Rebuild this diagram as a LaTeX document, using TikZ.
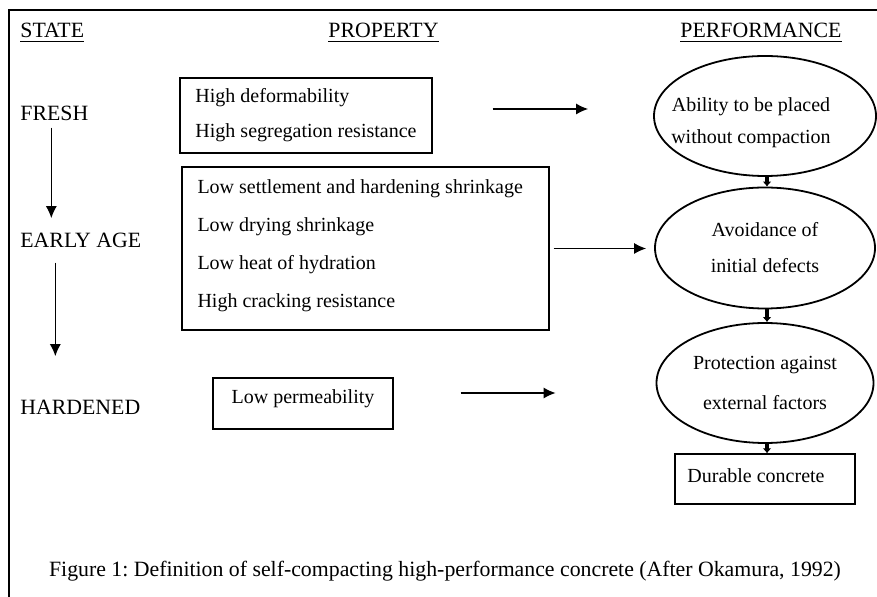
\documentclass[tikz,border=0pt]{standalone}
\usepackage{fontspec}
\setmainfont{Liberation Serif}
\usepackage{tikz}
\usetikzlibrary{shapes,arrows.meta,positioning}
% push the text of a box up / down by #1 (extra depth or height is twice the shift)
\newcommand{\liftby}[2]{\raisebox{0pt}[\height][\dimexpr\depth+#1*2\relax]{#2}}
\newcommand{\dropby}[2]{\raisebox{0pt}[\dimexpr\height+#1*2\relax][\depth]{#2}}
\frenchspacing

\begin{document}
\begin{tikzpicture}[x=0.5pt,y=-0.5pt,
    txt/.style={inner sep=0pt,anchor=base west,font=\fontsize{10.9}{13}\selectfont},
    propbox/.style={draw,line width=0.7pt,inner sep=0pt,align=left},
    perf/.style={ellipse,draw,line width=0.9pt,inner sep=0pt,align=center},
    flow/.style={line width=0.6pt,-{Latex[length=6pt,width=5.5pt]}},
    link/.style={line width=1.6pt,-{Latex[length=2.5pt,width=4.5pt]}}]
    \useasboundingbox (0,0) rectangle (877,597);
    % frame (only top and left side visible)
    \draw[line width=0.6pt] (9,597) -- (9,10) -- (877,10);

    % column heads
    \node[txt] (hstate) at (20,38) {\underline{STATE}};
    \node[txt] (hprop) at (328,38) {\underline{PROPERTY}};
    \node[txt] (hperf) at (680,38) {\underline{PERFORMANCE}};

    % states
    \node[txt] (fresh) at (20,121) {FRESH};
    \node[txt] (early) at (20,248) {EARLY AGE};
    \node[txt] (hard) at (20,415) {HARDENED};
    \draw[flow, shorten <=3pt, shorten >=7.5pt]
        ([xshift=-1.5pt]fresh.south) -- ([xshift=-1.5pt]fresh.south |- early.north);
    \draw[flow, shorten <=7pt, shorten >=22pt]
        ([xshift=0.5pt]fresh.south |- early.south) -- ([xshift=0.5pt]fresh.south |- hard.north);

    % properties
    \node[propbox, minimum width=126pt, minimum height=37.5pt,
        font=\fontsize{10}{17.5}\selectfont] (p1) at (306,115.5)
        {High deformability\\High segregation resistance};
    \node[propbox, minimum width=183.5pt, minimum height=81.5pt,
        font=\fontsize{10}{19}\selectfont] (p2) at (365.5,248.5)
        {\liftby{1.25pt}{\parbox{168pt}{Low settlement and hardening shrinkage\\Low drying shrinkage\\
         Low heat of hydration\\High cracking resistance}}};
    \node[propbox, minimum width=90pt, minimum height=25.5pt,
        font=\fontsize{10}{12}\selectfont] (p3) at (303,403.5)
        {\liftby{2.25pt}{Low permeability}};

    % performance
    \node[perf, minimum width=111pt, minimum height=60pt,
        font=\fontsize{10}{16}\selectfont] (e1) at (765,116)
        {\hspace*{-14pt}\dropby{2.5pt}{\begin{tabular}{@{}c@{}}Ability to be placed\\without compaction\end{tabular}}};
    \node[perf, minimum width=110pt, minimum height=60.5pt,
        font=\fontsize{10}{18}\selectfont] (e2) at (765,248)
        {Avoidance of\\initial defects};
    \node[perf, minimum width=108.5pt, minimum height=60pt,
        font=\fontsize{10}{20}\selectfont] (e3) at (765,383)
        {Protection against\\external factors};
    \node[propbox, minimum width=90pt, minimum height=25pt,
        font=\fontsize{10}{12}\selectfont] (dur) at (765,479)
        {\liftby{1.5pt}{Durable concrete}\hspace*{9pt}};

    % property -> performance
    \draw[flow, shorten <=30pt, shorten >=32.5pt]
        ([yshift=3.25pt]p1.east) -- ([yshift=3.25pt]p1.east -| e1.west);
    \draw[flow, shorten <=2pt, shorten >=4pt] (p2.east) -- (p2.east -| e2.west);
    \draw[flow, shorten <=33.5pt, shorten >=50pt]
        ([yshift=5.25pt]p3.east) -- ([yshift=5.25pt]p3.east -| e3.west);

    % performance chain
    \foreach \a/\b in {e1/e2, e2/e3, e3/dur}
        \draw[link] ([xshift=1pt]\a.south) -- ([xshift=1pt]\b.north);

    % caption
    \node[font=\fontsize{10.9}{13}\selectfont, inner sep=0pt] (cap) at (445,571)
        {Figure 1: Definition of self-compacting high-performance concrete (After Okamura, 1992)};
\end{tikzpicture}
\end{document}
